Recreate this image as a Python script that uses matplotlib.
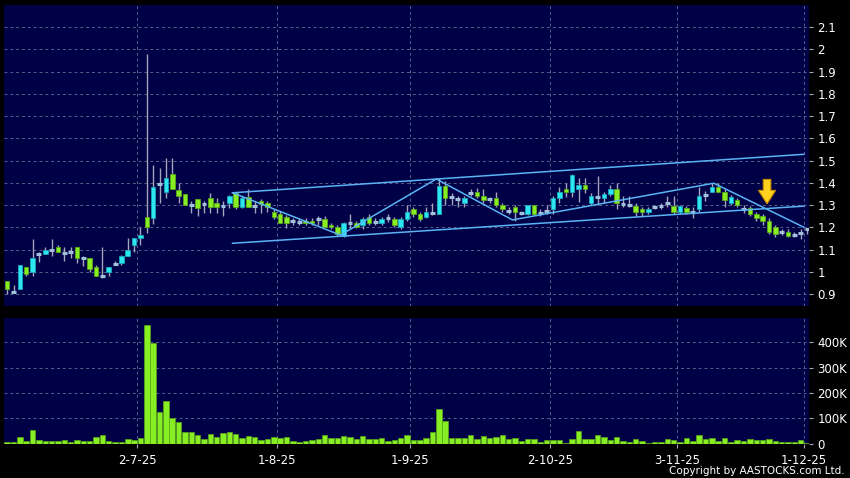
import numpy as np
import pandas as pd
import matplotlib
matplotlib.use("Agg")
import matplotlib.pyplot as plt
from matplotlib.ticker import FixedLocator, FuncFormatter

# trading days (HK holidays removed)
hk_holidays = ["2025-07-01", "2025-10-01", "2025-10-07", "2025-10-29"]
dates = pd.bdate_range("2025-06-02", "2025-12-01", freq="C", holidays=hk_holidays)

opens = [0.957, 0.91, 0.922, 1.022, 1.00, 1.08, 1.08, 1.10, 1.11, 1.085,
         1.09, 1.11, 1.062, 1.062, 1.022, 0.983, 1.00, 1.035, 1.04, 1.07,
         1.12, 1.15, 1.247, 1.24, 1.395, 1.357, 1.44, 1.367, 1.348, 1.30,
         1.327, 1.305, 1.33, 1.31, 1.295, 1.31, 1.355, 1.29, 1.338, 1.295,
         1.318, 1.31, 1.267, 1.258, 1.248, 1.228, 1.225, 1.228, 1.228, 1.235,
         1.238, 1.21, 1.20, 1.16, 1.218, 1.218, 1.21, 1.248, 1.225, 1.218,
         1.243, 1.238, 1.20, 1.238, 1.28, 1.258, 1.248, 1.262, 1.258, 1.387,
         1.335, 1.325, 1.307, 1.354, 1.358, 1.34, 1.326, 1.33, 1.30, 1.275,
         1.29, 1.266, 1.258, 1.30, 1.266, 1.273, 1.28, 1.33, 1.37, 1.357,
         1.37, 1.39, 1.307, 1.335, 1.33, 1.35, 1.37, 1.305, 1.30, 1.297,
         1.28, 1.267, 1.29, 1.295, 1.31, 1.297, 1.267, 1.288, 1.267, 1.28,
         1.345, 1.357, 1.38, 1.357, 1.307, 1.322, 1.28, 1.288, 1.258, 1.25,
         1.23, 1.20, 1.18, 1.18, 1.165, 1.175, 1.19]
highs = [0.96, 0.94, 1.03, 1.022, 1.145, 1.09, 1.11, 1.145, 1.12, 1.11,
         1.11, 1.11, 1.07, 1.062, 1.03, 1.11, 1.022, 1.047, 1.075, 1.153,
         1.15, 1.20, 1.98, 1.48, 1.465, 1.51, 1.51, 1.40, 1.348, 1.32,
         1.327, 1.32, 1.355, 1.33, 1.32, 1.345, 1.36, 1.34, 1.37, 1.32,
         1.325, 1.32, 1.28, 1.275, 1.255, 1.24, 1.24, 1.24, 1.24, 1.25,
         1.25, 1.22, 1.21, 1.225, 1.26, 1.23, 1.248, 1.26, 1.24, 1.245,
         1.26, 1.248, 1.248, 1.30, 1.29, 1.27, 1.29, 1.31, 1.42, 1.41,
         1.355, 1.34, 1.34, 1.37, 1.375, 1.37, 1.335, 1.36, 1.31, 1.29,
         1.30, 1.275, 1.30, 1.30, 1.28, 1.30, 1.34, 1.38, 1.40, 1.44,
         1.42, 1.42, 1.352, 1.43, 1.36, 1.39, 1.40, 1.34, 1.34, 1.31,
         1.29, 1.29, 1.30, 1.31, 1.34, 1.34, 1.30, 1.295, 1.29, 1.38,
         1.365, 1.40, 1.40, 1.37, 1.345, 1.33, 1.30, 1.297, 1.267, 1.258,
         1.24, 1.21, 1.19, 1.19, 1.18, 1.19, 1.19]
lows = [0.90, 0.91, 0.922, 0.983, 0.983, 1.045, 1.08, 1.07, 1.09, 1.047,
        1.06, 1.04, 1.027, 1.00, 0.983, 0.972, 0.98, 1.035, 1.03, 1.07,
        1.09, 1.12, 1.175, 1.215, 1.31, 1.33, 1.37, 1.31, 1.30, 1.265,
        1.25, 1.265, 1.265, 1.265, 1.25, 1.285, 1.28, 1.285, 1.29, 1.265,
        1.262, 1.27, 1.235, 1.218, 1.196, 1.21, 1.21, 1.21, 1.21, 1.21,
        1.20, 1.19, 1.16, 1.155, 1.196, 1.196, 1.19, 1.21, 1.21, 1.21,
        1.225, 1.203, 1.19, 1.23, 1.248, 1.23, 1.24, 1.255, 1.258, 1.30,
        1.30, 1.29, 1.29, 1.34, 1.33, 1.31, 1.31, 1.29, 1.27, 1.26,
        1.23, 1.255, 1.255, 1.255, 1.25, 1.26, 1.26, 1.31, 1.335, 1.335,
        1.315, 1.355, 1.30, 1.30, 1.31, 1.34, 1.28, 1.29, 1.29, 1.25,
        1.25, 1.26, 1.28, 1.28, 1.29, 1.26, 1.26, 1.26, 1.24, 1.27,
        1.32, 1.357, 1.357, 1.29, 1.30, 1.29, 1.265, 1.25, 1.23, 1.21,
        1.17, 1.155, 1.165, 1.155, 1.155, 1.145, 1.17]
closes = [0.922, 0.91, 1.03, 0.99, 1.062, 1.08, 1.10, 1.10, 1.09, 1.085,
          1.09, 1.062, 1.062, 1.013, 0.983, 0.983, 1.022, 1.035, 1.07, 1.10,
          1.15, 1.166, 1.20, 1.38, 1.395, 1.42, 1.37, 1.34, 1.30, 1.30,
          1.288, 1.305, 1.29, 1.29, 1.295, 1.34, 1.29, 1.33, 1.29, 1.295,
          1.305, 1.29, 1.247, 1.218, 1.218, 1.228, 1.225, 1.218, 1.218, 1.235,
          1.20, 1.20, 1.17, 1.218, 1.218, 1.20, 1.238, 1.218, 1.225, 1.238,
          1.243, 1.21, 1.238, 1.267, 1.258, 1.238, 1.267, 1.262, 1.387, 1.33,
          1.335, 1.325, 1.33, 1.354, 1.34, 1.322, 1.326, 1.30, 1.28, 1.275,
          1.267, 1.266, 1.30, 1.258, 1.266, 1.273, 1.33, 1.357, 1.357, 1.437,
          1.39, 1.37, 1.34, 1.335, 1.35, 1.37, 1.307, 1.305, 1.30, 1.267,
          1.267, 1.28, 1.29, 1.295, 1.31, 1.267, 1.297, 1.267, 1.267, 1.34,
          1.345, 1.38, 1.357, 1.322, 1.337, 1.30, 1.28, 1.258, 1.24, 1.23,
          1.18, 1.17, 1.18, 1.16, 1.165, 1.175, 1.19]
volumes = [6.6, 6.6, 25, 10, 53, 13, 9, 9, 8, 12,
           5, 13, 8, 9, 25, 32, 10, 5, 5, 18,
           12, 20, 467, 396, 125, 168, 99, 86, 46, 45,
           32, 18, 36, 24, 40, 44, 38, 22, 28, 26,
           13, 17, 24, 21, 26, 8, 7, 9, 15, 18,
           32, 21, 21, 28, 25, 16, 28, 17, 17, 22,
           10, 15, 20, 32, 13, 13, 20, 45, 135, 88,
           22, 22, 20, 34, 18, 28, 22, 25, 33, 18,
           21, 10, 16, 16, 4, 12, 12, 12, 3, 16,
           50, 18, 18, 32, 25, 12, 26, 9, 7, 16,
           10, 3, 7, 7, 16, 15, 5, 20, 8, 32,
           18, 22, 10, 20, 4, 12, 8, 16, 12, 12,
           16, 10, 4, 4, 4, 12, 1]  # thousands of shares

# trend lines drawn on the chart: (bar index, price)
upper_line = [(35.5, 1.355), (125.5, 1.528)]
lower_line = [(35.5, 1.128), (125.5, 1.295)]
zigzag = [(35.5, 1.355), (52.5, 1.165), (67.6, 1.417), (79.6, 1.233),
          (111.3, 1.398), (125.5, 1.20)]
arrow_at = (119.7, 1.415, 1.305)

price_ticks = [0.9, 1.0, 1.1, 1.2, 1.3, 1.4, 1.5, 1.6, 1.7, 1.8, 1.9, 2.0, 2.1]
vol_ticks = [0, 100, 200, 300, 400]

bg = "#000046"
grid_c = "#56628a"
up_c = "#2ee6f2"
down_c = "#86ee22"
doji_c = "#a0c0dc"
wick_c = "#a4a4bc"

o = np.array(opens); h = np.array(highs); l = np.array(lows); c = np.array(closes)
x = np.arange(len(dates))

fig = plt.figure(figsize=(8.5, 4.78), dpi=100, facecolor="black")
ax = fig.add_axes([0.0047, 0.3598, 0.947, 0.6297], facecolor=bg)
axv = fig.add_axes([0.0047, 0.0711, 0.947, 0.2636], facecolor=bg, sharex=ax)

# month ticks: first trading day of each month, between bars
month_first = [i for i in range(1, len(dates)) if dates[i].month != dates[i - 1].month]
tick_pos = [i - 0.5 for i in month_first]
tick_lab = ["{}-{}-{}".format(dates[i].day, dates[i].month, dates[i].year % 100) for i in month_first]

for a in (ax, axv):
    for s in a.spines.values():
        s.set_visible(False)
    a.yaxis.tick_right()
    a.tick_params(axis="y", colors=wick_c, labelcolor="white", length=3, labelsize=8.5, pad=3)
    a.xaxis.set_major_locator(FixedLocator(tick_pos))
    a.grid(True, color=grid_c, linestyle=(0, (3, 3)), linewidth=0.7)
    a.set_axisbelow(True)

# candles
ax.vlines(x, l, h, color=wick_c, linewidth=1, zorder=2)
up = c > o
dn = c < o
eq = c == o
ax.bar(x[up], (c - o)[up], bottom=o[up], width=0.72, color=up_c, edgecolor="#18a8b8", linewidth=0.6, zorder=3)
ax.bar(x[dn], (o - c)[dn], bottom=c[dn], width=0.72, color=down_c, edgecolor="#5aa818", linewidth=0.6, zorder=3)
ax.hlines(o[eq], x[eq] - 0.38, x[eq] + 0.38, color=doji_c, linewidth=2.2, zorder=3)

# trend lines
line_kw = dict(color="#5ab4f4", linewidth=1.1, zorder=4)
ax.plot([p[0] for p in upper_line], [p[1] for p in upper_line], **line_kw)
ax.plot([p[0] for p in lower_line], [p[1] for p in lower_line], **line_kw)
ax.plot([p[0] for p in zigzag], [p[1] for p in zigzag], **line_kw)

ax.annotate("", xy=(arrow_at[0], arrow_at[2]), xytext=(arrow_at[0], arrow_at[1]),
            arrowprops=dict(arrowstyle="simple,head_length=0.75,head_width=0.95,tail_width=0.42",
                            mutation_scale=13, fc="#ffd21e", ec="#c88a00", lw=0.8,
                            shrinkA=0, shrinkB=0), zorder=5)

ax.set_xlim(-0.5, 126.3)
ax.set_ylim(0.846, 2.199)
ax.yaxis.set_major_locator(FixedLocator(price_ticks))
ax.yaxis.set_major_formatter(FuncFormatter(lambda v, p: "{:g}".format(round(v, 2))))
ax.tick_params(axis="x", length=0, labelbottom=False)

# volume
axv.bar(x, np.array(volumes) * 1000, width=0.86, color=down_c, edgecolor="#5aa818", linewidth=0.5, zorder=3)
axv.set_ylim(-2000, 496000)
axv.yaxis.set_major_locator(FixedLocator([v * 1000 for v in vol_ticks]))
axv.yaxis.set_major_formatter(FuncFormatter(lambda v, p: "0" if v == 0 else "{}K".format(int(v / 1000))))
axv.xaxis.set_ticklabels(tick_lab)
axv.tick_params(axis="x", colors=wick_c, labelcolor="white", length=3, labelsize=8.5, pad=4)

fig.text(0.994, 0.004, "Copyright by AASTOCKS.com Ltd.", color="white", fontsize=7.5, ha="right", va="bottom")

fig.savefig("out.png", dpi=100, facecolor="black")
